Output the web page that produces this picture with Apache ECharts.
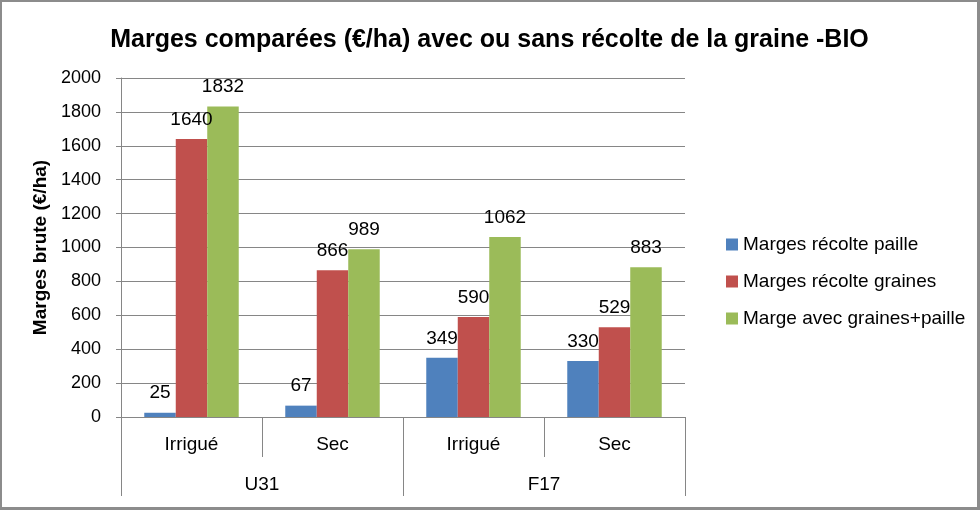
<!DOCTYPE html>
<html><head><meta charset="utf-8">
<script src="https://cdn.jsdelivr.net/npm/echarts@6/dist/echarts.min.js"></script>
<style>html,body{margin:0;padding:0;background:#fff}#c{width:980px;height:510px;box-sizing:border-box;border:2px solid #8c8c8c;border-right-width:3px;border-bottom-width:3px}</style>
</head><body><div id="c"></div>
<script>
const categories = ['Irrigué', 'Sec', 'Irrigué', 'Sec'];
const groups = ['U31', 'F17'];
const seriesNames = ['Marges récolte paille', 'Marges récolte graines', 'Marge avec graines+paille'];
const paille = [25, 67, 349, 330];
const graines = [1640, 866, 590, 529];
const grainesPaille = [1832, 989, 1062, 883];
const colors = ['#4F81BD', '#C0504D', '#9BBB59'];
const FONT = 'Liberation Sans';
const chart = echarts.init(document.getElementById('c'), null, {renderer: 'canvas'});
const mk = (name, data, color) => ({
  name, type: 'bar', data, barGap: '0%', barCategoryGap: '33%',
  itemStyle: {color},
  label: {show: true, position: 'top', color: '#000', fontFamily: FONT, fontSize: 19, distance: 10}
});
chart.setOption({
  animation: false,
  textStyle: {fontFamily: FONT},
  title: {text: 'Marges comparées (€/ha) avec ou sans récolte de la graine -BIO', left: 'center', top: 21,
    textStyle: {fontFamily: FONT, fontWeight: 'bold', fontSize: 25, color: '#000'}},
  legend: {orient: 'vertical', left: 719, top: 228, itemWidth: 12, itemHeight: 12, itemGap: 18,
    icon: 'rect', textStyle: {fontFamily: FONT, fontSize: 19, color: '#000'}, data: seriesNames},
  grid: {left: 119, right: 292, top: 76, bottom: 90, containLabel: false},
  xAxis: [
    {type: 'category', data: categories, position: 'bottom',
      axisLine: {lineStyle: {color: '#868686'}},
      axisTick: {show: true, length: 40, interval: 0, lineStyle: {color: '#868686'}},
      axisLabel: {interval: 0, color: '#000', fontSize: 19, fontFamily: FONT, margin: 18}},
    {type: 'category', data: groups, position: 'bottom',
      axisLine: {show: false},
      axisTick: {show: true, length: 79, interval: 0, lineStyle: {color: '#868686'}},
      axisLabel: {interval: 0, color: '#000', fontSize: 19, fontFamily: FONT, margin: 58}}
  ],
  yAxis: {type: 'value', min: 0, max: 2000, interval: 200,
    name: 'Marges brute (€/ha)', nameLocation: 'middle', nameGap: 68, nameRotate: 90,
    nameTextStyle: {fontFamily: FONT, fontWeight: 'bold', fontSize: 19, color: '#000'},
    axisLine: {show: true, lineStyle: {color: '#868686'}},
    axisTick: {show: true, length: 5, lineStyle: {color: '#868686'}},
    axisLabel: {color: '#000', fontSize: 18, fontFamily: FONT, margin: 20, formatter: v => String(v)},
    splitLine: {lineStyle: {color: '#868686'}}},
  series: [mk(seriesNames[0], paille, colors[0]), mk(seriesNames[1], graines, colors[1]), mk(seriesNames[2], grainesPaille, colors[2])]
});
</script></body></html>
